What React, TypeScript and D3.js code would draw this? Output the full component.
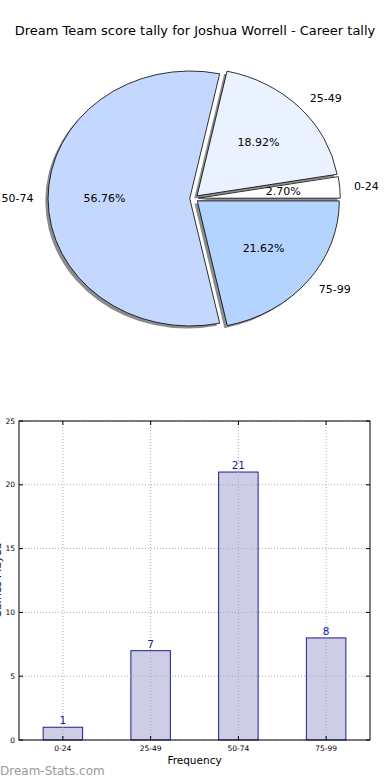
import * as d3 from 'd3';
import React from 'react';

const categories = ['0-24', '25-49', '50-74', '75-99'];
const counts = [1, 7, 21, 8];
const pieColors = ['#ffffff', '#ebf2ff', '#c4d8ff', '#b4d4ff'];
const yTicks = [0, 5, 10, 15, 20, 25];
const title = 'Dream Team score tally for Joshua Worrell - Career tally';

const FONT = 'DejaVu Sans, sans-serif';

function PieChart() {
  const cx = 194, cy = 198.5, rx = 142, ry = 127.5;
  const explode = 0.03;
  const total = d3.sum(counts);
  // matplotlib pie: starts at 3 o'clock, counter-clockwise
  const slices = d3.pie<number>().sort(null)
      .startAngle(Math.PI / 2)
      .endAngle(Math.PI / 2 - 2 * Math.PI)(counts);
  const arc = d3.arc<d3.PieArcDatum<number>>().innerRadius(0).outerRadius(1);

  const parts = slices.map((s, i) => {
    const mid = (s.startAngle + s.endAngle) / 2;
    const ux = Math.sin(mid), uy = -Math.cos(mid);
    return {s, i, ux, uy, ex: explode * ux, ey: explode * uy};
  });

  return (
    <g>
      <g transform={`translate(${cx},${cy}) scale(${rx},${ry})`}>
        {parts.map(p => (
          <path key={'sh' + p.i} d={arc(p.s) || ''}
                transform={`translate(${p.ex - 0.02},${p.ey + 0.02})`}
                fill="#000" fillOpacity={0.45} />
        ))}
        {parts.map(p => (
          <path key={'sl' + p.i} d={arc(p.s) || ''}
                transform={`translate(${p.ex},${p.ey})`}
                fill={pieColors[p.i]} stroke="#000" strokeWidth={0.8}
                vectorEffect="non-scaling-stroke" strokeLinejoin="round" />
        ))}
      </g>
      {parts.map(p => (
        <text key={'lb' + p.i}
              x={cx + rx * (p.ex + 1.1 * p.ux)} y={cy + ry * (p.ey + 1.1 * p.uy)}
              textAnchor={p.ux > 0 ? 'start' : 'end'} dominantBaseline="central"
              fontSize={11} fontFamily={FONT} fill="#000">
          {categories[p.i]}
        </text>
      ))}
      {parts.map(p => (
        <text key={'pc' + p.i}
              x={cx + rx * (p.ex + 0.6 * p.ux)} y={cy + ry * (p.ey + 0.6 * p.uy)}
              textAnchor="middle" dominantBaseline="central"
              fontSize={11} fontFamily={FONT} fill="#000">
          {d3.format('.2f')(counts[p.i] / total * 100) + '%'}
        </text>
      ))}
    </g>
  );
}

function BarChart() {
  const left = 19, right = 370, top = 421, bottom = 740;
  const x = d3.scaleLinear().domain([-0.5, categories.length - 0.5]).range([left, right]);
  const y = d3.scaleLinear().domain([0, 25]).range([bottom, top]);
  const barW = x(0.45) - x(0);

  return (
    <g>
      {counts.map((v, i) => (
        <rect key={'b' + i} x={x(i) - barW / 2} y={y(v)} width={barW} height={y(0) - y(v)}
              fill="#cdcde6" stroke="#1c1c94" strokeWidth={1} />
      ))}
      {/* grid on top, like the original */}
      {yTicks.map(t => (
        <line key={'gy' + t} x1={left} x2={right} y1={y(t)} y2={y(t)}
              stroke="#aaa" strokeWidth={1} strokeDasharray="1,2" />
      ))}
      {categories.map((c, i) => (
        <line key={'gx' + i} x1={x(i)} x2={x(i)} y1={top} y2={bottom}
              stroke="#aaa" strokeWidth={1} strokeDasharray="1,2" />
      ))}
      {yTicks.map(t => (
        <g key={'ty' + t}>
          <line x1={left} x2={left + 4} y1={y(t)} y2={y(t)} stroke="#000" />
          <line x1={right} x2={right - 4} y1={y(t)} y2={y(t)} stroke="#000" />
          <text x={left - 4} y={y(t)} textAnchor="end" dominantBaseline="central"
                fontSize={7.5} fontFamily={FONT}>{t}</text>
        </g>
      ))}
      {categories.map((c, i) => (
        <g key={'tx' + i}>
          <line x1={x(i)} x2={x(i)} y1={bottom} y2={bottom - 4} stroke="#000" />
          <line x1={x(i)} x2={x(i)} y1={top} y2={top + 4} stroke="#000" />
          <text x={x(i)} y={bottom + 11} textAnchor="middle"
                fontSize={7.5} fontFamily={FONT}>{c}</text>
        </g>
      ))}
      <rect x={left} y={top} width={right - left} height={bottom - top}
            fill="none" stroke="#000" strokeWidth={1} />
      {counts.map((v, i) => (
        <text key={'v' + i} x={x(i)} y={y(v) - 3} textAnchor="middle"
              fontSize={10.5} fontFamily={FONT} fill="#1c1c8c">{v}</text>
      ))}
      <text x={(left + right) / 2} y={764} textAnchor="middle"
            fontSize={10.5} fontFamily={FONT}>Frequency</text>
      {/* y label sits mostly off the left edge, as in the original */}
      <text transform={`translate(1,${(top + bottom) / 2}) rotate(-90)`} textAnchor="middle"
            fontSize={10.5} fontFamily={FONT}>Games Played</text>
    </g>
  );
}

export default function App() {
  return (
    <svg width={390} height={780} viewBox="0 0 390 780"
         style={{position: 'absolute', left: 0, top: 0, background: '#fff'}}>
      <rect width={390} height={780} fill="#fff" />
      <text x={195} y={35} textAnchor="middle" fontSize={13} fontFamily={FONT}>{title}</text>
      <PieChart />
      <BarChart />
      <text x={0} y={775} fontSize={12} fontFamily={FONT} fill="#999">Dream-Stats.com</text>
    </svg>
  );
}
